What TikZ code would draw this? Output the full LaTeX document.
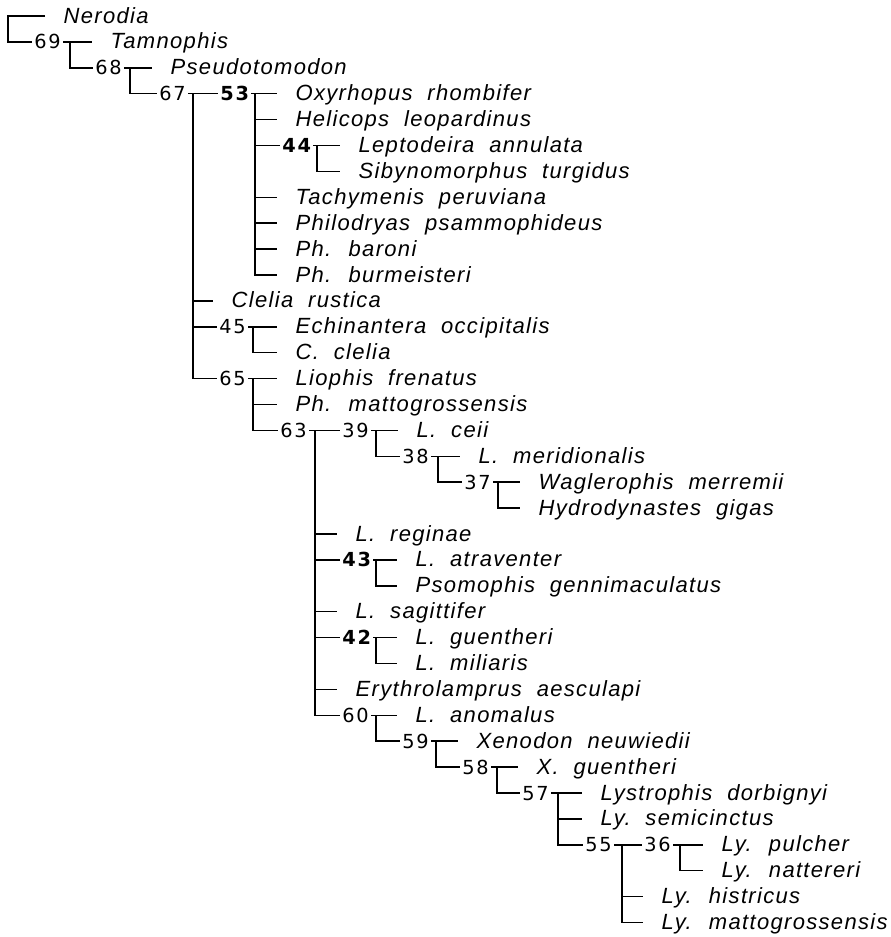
\documentclass[tikz,border=0pt]{standalone}
\usepackage{fontspec}
\setmainfont{Liberation Sans}
\newfontfamily\taxonfont[LetterSpace=6,WordSpace=2.0]{Liberation Sans}
\newfontfamily\cladefont[LetterSpace=10]{DejaVu Sans}
\usetikzlibrary{positioning,calc}

\begin{document}
\begin{tikzpicture}[
    x=0.75pt, y=-19.425pt,
    taxon/.style={anchor=west, inner xsep=0pt, outer xsep=14pt, inner ysep=0pt, text height=12pt, text depth=1.5pt, font=\taxonfont\itshape\fontsize{16.5}{19}\selectfont},
    clade/.style={anchor=west, inner xsep=1.5pt, inner ysep=0pt, text height=10.6pt, text depth=0pt, font=\cladefont\fontsize{14.5}{17}\selectfont},
    boldclade/.style={clade, font=\cladefont\bfseries\fontsize{14.5}{17}\selectfont},
    branch/.style={line width=1.1pt},
]
\useasboundingbox (0,0.382) rectangle (891,36.560);

% Outgroups: Nerodia, Tamnophis, Pseudotomodon
\coordinate (b0) at (8,1);
\node[taxon] (nerodia) at (45,1) {Nerodia};
\node[clade] (n69) at (32,2) {69};
\draw[branch] (nerodia.west) -- (b0) |- (n69.west);

\coordinate (b69) at (70,2);
\node[taxon] (tamnophis) at (92,2) {Tamnophis};
\node[clade] (n68) at (93,3) {68};
\draw[branch] (n69.east) -- (tamnophis.west);
\draw[branch] (b69) |- (n68.west);

\coordinate (b68) at (130,3);
\node[taxon] (pseudo) at (152,3) {Pseudotomodon};
\node[clade] (n67) at (157,4) {67};
\draw[branch] (n68.east) -- (pseudo.west);
\draw[branch] (b68) |- (n67.west);

% Clade 67 and its four branches
\coordinate (b67) at (193,4);
\node[boldclade] (n53) at (218,4) {53};
\node[taxon] (crustica) at (213,12) {Clelia rustica};
\node[clade] (n45) at (217,13) {45};
\node[clade] (n65) at (217,15) {65};
\draw[branch] (n67.east) -- (n53.west);
\draw[branch] (b67) |- (n65.west);
\draw[branch] (b67 |- crustica.west) -- (crustica.west);
\draw[branch] (b67 |- n45.west) -- (n45.west);

% Clade 53
\coordinate (b53) at (255,4);
\node[taxon] (oxyrhopus) at (277,4) {Oxyrhopus rhombifer};
\node[taxon] (helicops) at (277,5) {Helicops leopardinus};
\node[boldclade] (n44) at (280,6) {44};
\node[taxon] (tachymenis) at (277,8) {Tachymenis peruviana};
\node[taxon] (philodryas) at (277,9) {Philodryas psammophideus};
\node[taxon] (baroni) at (277,10) {Ph. baroni};
\node[taxon] (burmeisteri) at (277,11) {Ph. burmeisteri};
\draw[branch] (n53.east) -- (oxyrhopus.west);
\draw[branch] (b53) |- (burmeisteri.west);
\draw[branch] (b53 |- helicops.west) -- (helicops.west);
\draw[branch] (b53 |- n44.west) -- (n44.west);
\draw[branch] (b53 |- tachymenis.west) -- (tachymenis.west);
\draw[branch] (b53 |- philodryas.west) -- (philodryas.west);
\draw[branch] (b53 |- baroni.west) -- (baroni.west);

\coordinate (b44) at (317,6);
\node[taxon] (leptodeira) at (340,6) {Leptodeira annulata};
\node[taxon] (sibynomorphus) at (340,7) {Sibynomorphus turgidus};
\draw[branch] (n44.east) -- (leptodeira.west);
\draw[branch] (b44) |- (sibynomorphus.west);

% Clade 45
\coordinate (b45) at (253,13);
\node[taxon] (echinantera) at (277,13) {Echinantera occipitalis};
\node[taxon] (cclelia) at (277,14) {C. clelia};
\draw[branch] (n45.east) -- (echinantera.west);
\draw[branch] (b45) |- (cclelia.west);

% Clade 65
\coordinate (b65) at (253,15);
\node[taxon] (frenatus) at (277,15) {Liophis frenatus};
\node[taxon] (phmatto) at (277,16) {Ph. mattogrossensis};
\node[clade] (n63) at (278,17) {63};
\draw[branch] (n65.east) -- (frenatus.west);
\draw[branch] (b65) |- (n63.west);
\draw[branch] (b65 |- phmatto.west) -- (phmatto.west);

% Clade 63
\coordinate (b63) at (315,17);
\node[clade] (n39) at (340,17) {39};
\node[taxon] (reginae) at (337,21) {L.\ reginae};
\node[boldclade] (n43) at (340,22) {43};
\node[taxon] (sagittifer) at (337,24) {L.\ sagittifer};
\node[boldclade] (n42) at (340,25) {42};
\node[taxon] (erythro) at (337,27) {Erythrolamprus aesculapi};
\node[clade] (n60) at (340,28) {60};
\draw[branch] (n63.east) -- (n39.west);
\draw[branch] (b63) |- (n60.west);
\draw[branch] (b63 |- reginae.west) -- (reginae.west);
\draw[branch] (b63 |- n43.west) -- (n43.west);
\draw[branch] (b63 |- sagittifer.west) -- (sagittifer.west);
\draw[branch] (b63 |- n42.west) -- (n42.west);
\draw[branch] (b63 |- erythro.west) -- (erythro.west);

% Clades 39, 38, 37
\coordinate (b39) at (376,17);
\node[taxon] (ceii) at (398,17) {L. ceii};
\node[clade] (n38) at (400,18) {38};
\draw[branch] (n39.east) -- (ceii.west);
\draw[branch] (b39) |- (n38.west);

\coordinate (b38) at (438,18);
\node[taxon] (meridionalis) at (460,18) {L. meridionalis};
\node[clade] (n37) at (462,19) {37};
\draw[branch] (n38.east) -- (meridionalis.west);
\draw[branch] (b38) |- (n37.west);

\coordinate (b37) at (498,19);
\node[taxon] (waglerophis) at (520,19) {Waglerophis merremii};
\node[taxon] (hydrodynastes) at (520,20) {Hydrodynastes gigas};
\draw[branch] (n37.east) -- (waglerophis.west);
\draw[branch] (b37) |- (hydrodynastes.west);

% Clades 43 and 42
\coordinate (b43) at (376,22);
\node[taxon] (atraventer) at (397,22) {L. atraventer};
\node[taxon] (psomophis) at (397,23) {Psomophis gennimaculatus};
\draw[branch] (n43.east) -- (atraventer.west);
\draw[branch] (b43) |- (psomophis.west);

\coordinate (b42) at (376,25);
\node[taxon] (lguentheri) at (397,25) {L.\ guentheri};
\node[taxon] (miliaris) at (397,26) {L.\ miliaris};
\draw[branch] (n42.east) -- (lguentheri.west);
\draw[branch] (b42) |- (miliaris.west);

% Clades 60 down to 36
\coordinate (b60) at (376,28);
\node[taxon] (anomalus) at (397,28) {L.\ anomalus};
\node[clade] (n59) at (400,29) {59};
\draw[branch] (n60.east) -- (anomalus.west);
\draw[branch] (b60) |- (n59.west);

\coordinate (b59) at (436,29);
\node[taxon] (xenodon) at (458,29) {Xenodon neuwiedii};
\node[clade] (n58) at (460,30) {58};
\draw[branch] (n59.east) -- (xenodon.west);
\draw[branch] (b59) |- (n58.west);

\coordinate (b58) at (497,30);
\node[taxon] (xguentheri) at (518,30) {X. guentheri};
\node[clade] (n57) at (520,31) {57};
\draw[branch] (n58.east) -- (xguentheri.west);
\draw[branch] (b58) |- (n57.west);

\coordinate (b57) at (558,31);
\node[taxon] (lystrophis) at (582,31) {Lystrophis dorbignyi};
\node[taxon] (semicinctus) at (582,32) {Ly.\ semicinctus};
\node[clade] (n55) at (583,33) {55};
\draw[branch] (n57.east) -- (lystrophis.west);
\draw[branch] (b57) |- (n55.west);
\draw[branch] (b57 |- semicinctus.west) -- (semicinctus.west);

\coordinate (b55) at (622,33);
\node[clade] (n36) at (642,33) {36};
\node[taxon] (histricus) at (643,35) {Ly. histricus};
\node[taxon] (lymatto) at (643,36) {Ly. mattogrossensis};
\draw[branch] (n55.east) -- (n36.west);
\draw[branch] (b55) |- (lymatto.west);
\draw[branch] (b55 |- histricus.west) -- (histricus.west);

\coordinate (b36) at (680,33);
\node[taxon] (pulcher) at (703,33) {Ly. pulcher};
\node[taxon] (nattereri) at (703,34) {Ly. nattereri};
\draw[branch] (n36.east) -- (pulcher.west);
\draw[branch] (b36) |- (nattereri.west);

\end{tikzpicture}
\end{document}
